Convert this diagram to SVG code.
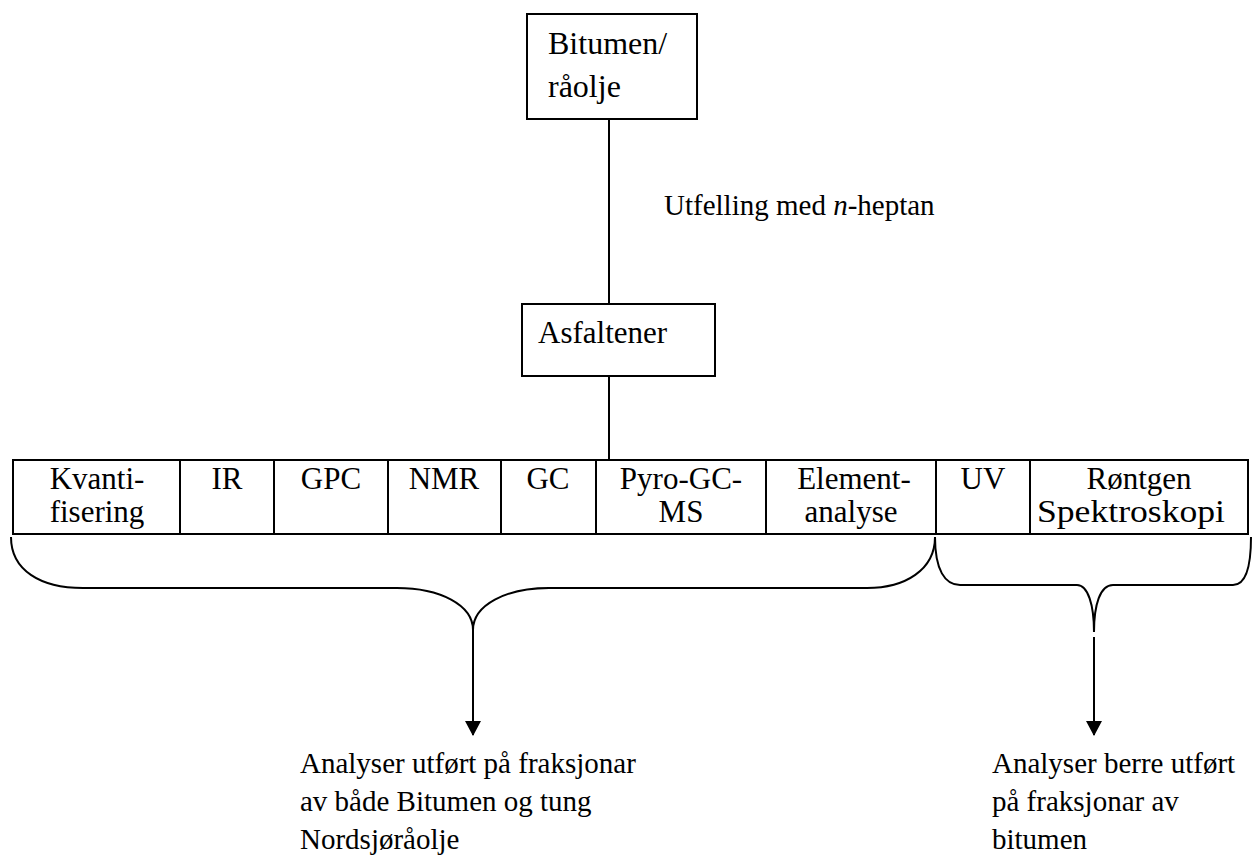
<svg xmlns="http://www.w3.org/2000/svg" width="1254" height="857" viewBox="0 0 1254 857">
<style>
.box{fill:#fff;stroke:#000;stroke-width:2}
.ln{fill:none;stroke:#000;stroke-width:2}
.br{fill:none;stroke:#000;stroke-width:2}
.t{font-family:"Liberation Serif","Times New Roman",serif;font-size:31px;fill:#000}
.b{font-size:32px}
.c{text-anchor:middle}
.s{font-family:"Liberation Serif","Times New Roman",serif;font-size:29px;fill:#000}
</style>
<defs>
<marker id="arr" markerWidth="16" markerHeight="16" refX="14" refY="8" orient="auto" markerUnits="userSpaceOnUse">
<path d="M0,0 L15,8 L0,16 Z" fill="#000"/>
</marker>
</defs>
<rect width="1254" height="857" fill="#fff"/>
<g id="connectors">
<line class="ln" x1="609" y1="119" x2="609" y2="304"/>
<line class="ln" x1="609" y1="376" x2="609" y2="460"/>
<path class="br" d="M11,537 C11,570 40,588 83,588 L397,588 C440,588 473,605 473,630 C473,605 506,588 549,588 L867,588 C905,588 935,570 935,537"/>
<path class="br" d="M935,537 C935,570 945,585 960,585 L1077,585 C1088,585 1094,605 1094,632 C1094,605 1100,585 1113,585 L1233,585 C1245,585 1251,570 1251,537"/>
<line class="ln" x1="473" y1="630" x2="473" y2="735" marker-end="url(#arr)"/>
<line class="ln" x1="1094" y1="637" x2="1094" y2="735" marker-end="url(#arr)"/>
<text class="s" x="664" y="215">Utfelling med <tspan font-style="italic">n</tspan>-heptan</text>
</g>
<g id="bitumen">
<rect class="box" x="527" y="14" width="170" height="105"/>
<text class="t b" x="548" y="54">Bitumen/</text>
<text class="t b" x="548" y="97">råolje</text>
</g>
<g id="asfaltener">
<rect class="box" x="522" y="304" width="193" height="72"/>
<text class="t" x="538" y="343">Asfaltener</text>
</g>
<g id="table">
<rect class="box" x="13" y="460" width="1235" height="74"/>
<line class="ln" x1="180" y1="460" x2="180" y2="534"/>
<line class="ln" x1="274" y1="460" x2="274" y2="534"/>
<line class="ln" x1="388" y1="460" x2="388" y2="534"/>
<line class="ln" x1="501" y1="460" x2="501" y2="534"/>
<line class="ln" x1="596" y1="460" x2="596" y2="534"/>
<line class="ln" x1="766" y1="460" x2="766" y2="534"/>
<line class="ln" x1="936" y1="460" x2="936" y2="534"/>
<line class="ln" x1="1030" y1="460" x2="1030" y2="534"/>
</g>
<g id="kvantifisering"><text class="t c" x="97" y="489">Kvanti-</text><text class="t c" x="97" y="522">fisering</text></g>
<g id="ir"><text class="t c" x="227" y="489">IR</text></g>
<g id="gpc"><text class="t c" x="331" y="489">GPC</text></g>
<g id="nmr"><text class="t c" x="444" y="489">NMR</text></g>
<g id="gc"><text class="t c" x="548" y="489">GC</text></g>
<g id="pyro"><text class="t c" x="681" y="489">Pyro-GC-</text><text class="t c" x="681" y="522">MS</text></g>
<g id="element"><text class="t c" x="854" y="489">Element-</text><text class="t c" x="851" y="522">analyse</text></g>
<g id="uv"><text class="t c" x="983" y="489">UV</text></g>
<g id="rontgen"><text class="t c" x="1139" y="489">Røntgen</text><text class="t" x="1037" y="522" textLength="188" lengthAdjust="spacingAndGlyphs">Spektroskopi</text></g>
<g id="result-left">
<text class="s" x="300" y="773">Analyser utført på fraksjonar</text>
<text class="s" x="300" y="811">av både Bitumen og tung</text>
<text class="s" x="300" y="849">Nordsjøråolje</text>
</g>
<g id="result-right">
<text class="s" x="992" y="773">Analyser berre utført</text>
<text class="s" x="992" y="811">på fraksjonar av</text>
<text class="s" x="992" y="849">bitumen</text>
</g>
</svg>
